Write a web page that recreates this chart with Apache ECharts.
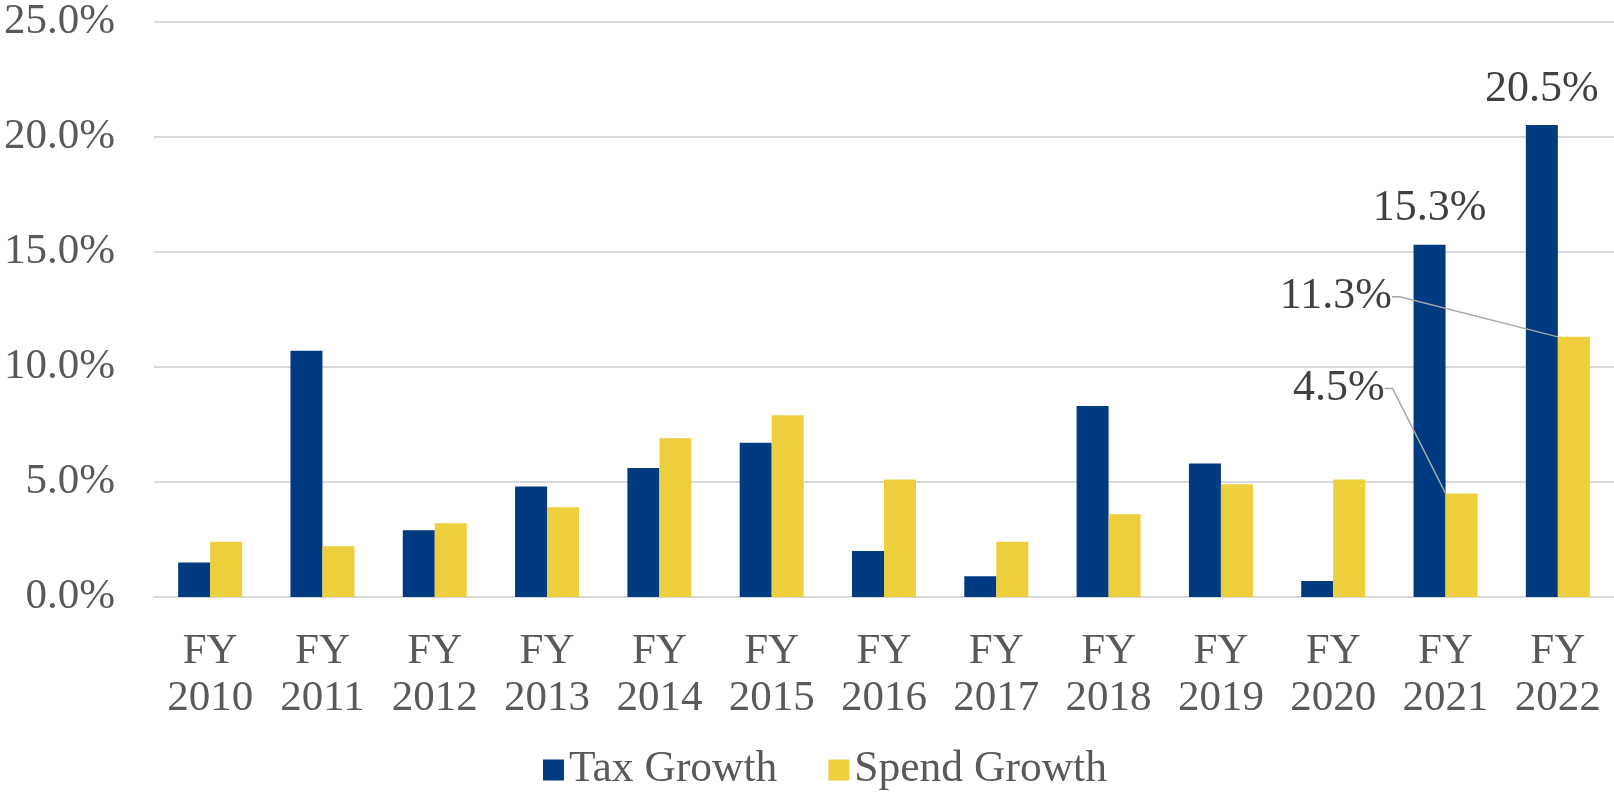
<!DOCTYPE html>
<html>
<head>
<meta charset="utf-8">
<script src="https://cdn.jsdelivr.net/npm/echarts@6/dist/echarts.min.js"></script>
<style>
  html, body { margin: 0; padding: 0; background: #fff; }
  #main { width: 1614px; height: 792px; }
</style>
</head>
<body>
<div id="main"></div>
<script>
// data
var years = ['2010', '2011', '2012', '2013', '2014', '2015', '2016', '2017', '2018', '2019', '2020', '2021', '2022'];
var taxGrowth = [1.5, 10.7, 2.9, 4.8, 5.6, 6.7, 2.0, 0.9, 8.3, 5.8, 0.7, 15.3, 20.5];
var spendGrowth = [2.4, 2.2, 3.2, 3.9, 6.9, 7.9, 5.1, 2.4, 3.6, 4.9, 5.1, 4.5, 11.3];
var taxLabelled = [11, 12];
var spendLabelled = [11, 12];

var chart = echarts.init(document.getElementById('main'));
var font = '"Liberation Serif", "Times New Roman", serif';

function pct(v) { return v.toFixed(1) + '%'; }

// label offsets (from the bar's top-left) for the moved spend labels
var spendLabelMove = {
  11: { dx: -61, dy: -105 },
  12: { dx: -166, dy: -40 }
};

var option = {
  animation: false,
  textStyle: { fontFamily: font },
  grid: { left: 154, right: 0, top: 20.6, bottom: 195, containLabel: false },
  legend: {
    left: 538,
    top: 743,
    itemWidth: 21,
    itemHeight: 21,
    itemGap: 51,
    icon: 'rect',
    textStyle: { fontFamily: font, fontSize: 43.5, color: '#595959' },
    data: ['Tax Growth', 'Spend Growth']
  },
  xAxis: {
    type: 'category',
    data: years.map(function (y) { return 'FY\n' + y; }),
    axisTick: { show: false },
    axisLine: { lineStyle: { color: '#d9d9d9', width: 2 } },
    axisLabel: { fontFamily: font, fontSize: 43, lineHeight: 47, color: '#595959', margin: 31, interval: 0 }
  },
  yAxis: {
    type: 'value',
    min: 0,
    max: 25,
    interval: 5,
    axisLine: { show: false },
    axisTick: { show: false },
    splitLine: { lineStyle: { color: '#d9d9d9', width: 2 } },
    axisLabel: { fontFamily: font, fontSize: 43, color: '#595959', margin: 39, formatter: pct }
  },
  series: [
    {
      name: 'Tax Growth',
      type: 'bar',
      barWidth: 32,
      barGap: '0%',
      itemStyle: { color: '#003a80' },
      data: taxGrowth.map(function (v, i) {
        return {
          value: v,
          label: {
            show: taxLabelled.indexOf(i) >= 0,
            position: 'top',
            distance: 14,
            fontFamily: font,
            fontSize: 44,
            color: '#404040',
            formatter: function (p) { return pct(p.value); }
          }
        };
      })
    },
    {
      name: 'Spend Growth',
      type: 'bar',
      z: 3,
      barWidth: 32,
      itemStyle: { color: '#edcf3e' },
      data: spendGrowth.map(function (v, i) {
        return {
          value: v,
          label: {
            show: spendLabelled.indexOf(i) >= 0,
            position: 'top',
            fontFamily: font,
            fontSize: 44,
            color: '#404040',
            formatter: function (p) { return pct(p.value); }
          }
        };
      }),
      labelLine: { show: true, length2: 8, lineStyle: { color: '#a6a6a6', width: 1.5 } },
      labelLayout: function (p) {
        var m = spendLabelMove[p.dataIndex];
        if (!m) return {};
        var lx = p.rect.x + m.dx;
        var ly = p.rect.y + m.dy;
        return {
          x: lx,
          y: ly,
          align: 'right',
          verticalAlign: 'middle',
          // leader: short horizontal tick, then down to the middle of the bar top
          labelLinePoints: [
            [p.rect.x + p.rect.width / 2, p.rect.y],
            [lx + 16, ly],
            [lx + 8, ly]
          ]
        };
      }
    }
  ]
};

chart.setOption(option);
</script>
</body>
</html>
